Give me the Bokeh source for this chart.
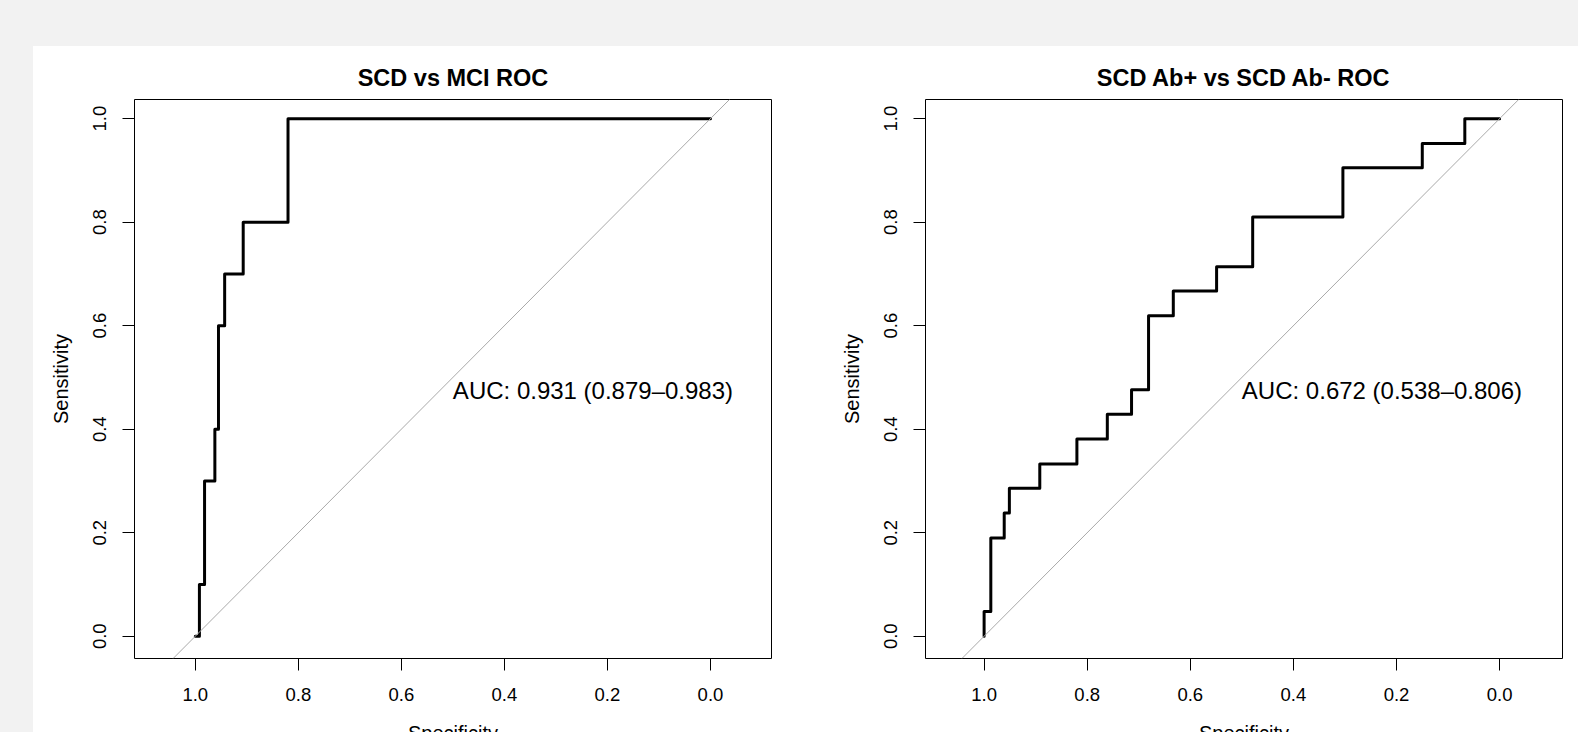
from bokeh.plotting import figure
from bokeh.models import Range1d, FixedTicker, Slope, Label, Div
from bokeh.layouts import row, column
from bokeh.embed import file_html
from bokeh.resources import INLINE

# ---- data -------------------------------------------------------------
titles = ["SCD vs MCI ROC", "SCD Ab+ vs SCD Ab- ROC"]
auc_texts = ["AUC: 0.931 (0.879\u20130.983)", "AUC: 0.672 (0.538\u20130.806)"]
x_title = "Specificity"
y_title = "Sensitivity"

tick_vals = [0.0, 0.2, 0.4, 0.6, 0.8, 1.0]
tick_labels = ["0.0", "0.2", "0.4", "0.6", "0.8", "1.0"]

# ROC step points: specificity at which sensitivity rises to the given value
mci_spec = [1.0, 0.992, 0.982, 0.962, 0.955, 0.943, 0.907, 0.820, 0.0]
mci_sens = [0.0, 0.1, 0.3, 0.4, 0.6, 0.7, 0.8, 1.0, 1.0]

ab_spec = [1.0, 1.0, 0.987, 0.961, 0.951, 0.892, 0.820, 0.761, 0.714, 0.681,
           0.633, 0.549, 0.479, 0.304, 0.150, 0.0675, 0.0]
ab_sens = [0.0, 0.048, 0.190, 0.238, 0.286, 0.333, 0.381, 0.429, 0.476, 0.619,
           0.667, 0.714, 0.810, 0.905, 0.952, 1.0, 1.0]

FONT = "Liberation Sans"
GRAY = "#f2f2f2"
FIG_H = 676


def step_vertices(xs, ys):
    sx, sy = [xs[0]], [ys[0]]
    for i in range(1, len(xs)):
        sx += [xs[i], xs[i]]
        sy += [ys[i - 1], ys[i]]
    return sx, sy


def make_fig(title, spec, sens, auc, xr, width, bl, br):
    p = figure(width=width, height=FIG_H,
               x_range=Range1d(xr[0], xr[1]), y_range=Range1d(-0.043, 1.037),
               output_backend="svg", toolbar_location=None,
               min_border_left=bl, min_border_right=br,
               min_border_top=53, min_border_bottom=FIG_H - 53 - 559,
               title=title, background_fill_color="white",
               border_fill_color="white")
    p.title.text_font = FONT
    p.title.text_font_size = "23.5px"
    p.title.text_font_style = "bold"
    p.title.align = "center"
    p.title.text_color = "black"
    p.title.standoff = 18

    p.grid.visible = False
    p.outline_line_color = "black"
    p.outline_line_width = 1

    for ax in (p.xaxis[0], p.yaxis[0]):
        ax.ticker = FixedTicker(ticks=tick_vals)
        ax.major_label_overrides = dict(zip(tick_vals, tick_labels))
        ax.axis_line_color = None
        ax.major_tick_line_color = "black"
        ax.major_tick_line_width = 1
        ax.major_tick_out = 12
        ax.major_tick_in = 0
        ax.minor_tick_line_color = None
        ax.major_label_text_font = FONT
        ax.major_label_text_font_size = "18.5px"
        ax.major_label_text_color = "black"

    p.xaxis.major_label_standoff = 17
    p.yaxis.major_label_standoff = 16
    p.yaxis.major_label_orientation = "vertical"
    p.yaxis.axis_label = y_title
    p.yaxis.axis_label_text_font = FONT
    p.yaxis.axis_label_text_font_size = "20px"
    p.yaxis.axis_label_text_font_style = "normal"
    p.yaxis.axis_label_text_color = "black"
    p.yaxis.axis_label_standoff = 19

    p.add_layout(Slope(gradient=-1, y_intercept=1, line_color="#a9a9a9",
                       line_width=1))

    sx, sy = step_vertices(spec, sens)
    p.line(sx, sy, line_color="black", line_width=3, line_join="round",
           line_cap="round")

    p.add_layout(Label(x=0.5, y=0.5, text=auc, text_align="left",
                       text_baseline="top", text_font=FONT,
                       text_font_size="24px", text_color="black"))
    return p


p1 = make_fig(titles[0], mci_spec, mci_sens, auc_texts[0], (1.118, -0.1185),
              797, 101, 59)
p2 = make_fig(titles[1], ab_spec, ab_sens, auc_texts[1], (1.1137, -0.122),
              748, 95, 16)

top_band = Div(text="", width=1578, height=46, margin=0,
               styles={"background-color": GRAY})
left_band = Div(text="", width=33, height=FIG_H, margin=0,
                styles={"background-color": GRAY})

# bottom strip: x-axis titles, cut off by the window edge as in the original
label_style = {"background-color": "white", "overflow": "hidden",
               "font-family": FONT, "font-size": "20px", "color": "black",
               "line-height": "normal", "white-space": "nowrap"}
bottom_gray = Div(text="", width=33, height=10, margin=0,
                  styles={"background-color": GRAY})
xlab1 = Div(text='<span style="margin-left:375px">%s</span>' % x_title,
            width=797, height=10, margin=0, styles=label_style)
xlab2 = Div(text='<span style="margin-left:369px">%s</span>' % x_title,
            width=748, height=10, margin=0, styles=label_style)

layout = column(top_band,
                row(left_band, p1, p2, spacing=0),
                row(bottom_gray, xlab1, xlab2, spacing=0),
                spacing=0)

open("out.html", "w").write(file_html(layout, INLINE))
